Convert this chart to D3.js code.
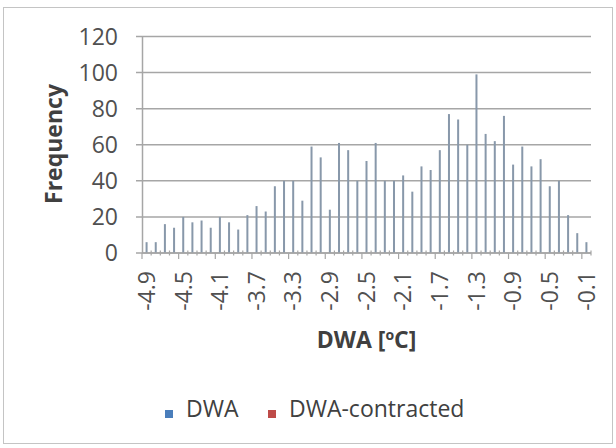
<!DOCTYPE html>
<html><head><meta charset="utf-8">
<script src="https://cdn.jsdelivr.net/npm/d3@7"></script>
<style>
html,body{margin:0;padding:0;background:#fff;}
svg{display:block;}
text{font-family:"Open Sans",sans-serif;}
</style></head>
<body>
<script>
const categories = [-4.9,-4.8,-4.7,-4.6,-4.5,-4.4,-4.3,-4.2,-4.1,-4.0,-3.9,-3.8,-3.7,-3.6,-3.5,-3.4,-3.3,-3.2,-3.1,-3.0,-2.9,-2.8,-2.7,-2.6,-2.5,-2.4,-2.3,-2.2,-2.1,-2.0,-1.9,-1.8,-1.7,-1.6,-1.5,-1.4,-1.3,-1.2,-1.1,-1.0,-0.9,-0.8,-0.7,-0.6,-0.5,-0.4,-0.3,-0.2,-0.1];
const dwaValues = [6,6,16,14,20,17,18,14,20,17,13,21,26,23,37,40,40,29,59,53,24,61,57,40,51,61,40,40,43,34,48,46,57,77,74,60,99,66,62,76,49,59,48,52,37,40,21,11,6];
const yTicks = [0,20,40,60,80,100,120];
const labelStep = 4;
const seriesNames = ["DWA","DWA-contracted"];
const seriesColors = ["#4a7ebb","#be4b48"];

const W = 616, H = 448;
const svg = d3.select("body").append("svg").attr("width",W).attr("height",H);

svg.append("rect").attr("x",3.5).attr("y",7.5).attr("width",609).attr("height",436)
  .attr("fill","#fff").attr("stroke","#c4c4c4").attr("stroke-width",1);

const x = d3.scaleBand().domain(categories.map(String)).range([142,591]).padding(0);
const y = d3.scaleLinear().domain([0,120]).range([253,36.5]);

// gridlines
svg.append("g").selectAll("line").data(yTicks).join("line")
  .attr("x1",136).attr("x2",591)
  .attr("y1",d=>y(d)).attr("y2",d=>y(d))
  .attr("stroke","#a6a6a6").attr("stroke-width",1.5);

// y axis line
svg.append("line").attr("x1",142.5).attr("x2",142.5).attr("y1",y(120)).attr("y2",y(0))
  .attr("stroke","#a6a6a6").attr("stroke-width",1.5);

// y tick labels
svg.append("g").selectAll("text").data(yTicks).join("text")
  .attr("x",118).attr("y",d=>y(d)).attr("dy","0.36em")
  .attr("text-anchor","end").attr("font-size",23).attr("fill","#505050")
  .text(d=>d);

// bars
svg.append("g").selectAll("rect").data(dwaValues).join("rect")
  .attr("x",(d,i)=>x(String(categories[i]))+x.bandwidth()/2-1)
  .attr("width",2)
  .attr("y",d=>y(d)).attr("height",d=>y(0)-y(d))
  .attr("fill","#8898aa");

// x axis line and ticks
const y0 = y(0);
svg.append("line").attr("x1",142).attr("x2",591).attr("y1",y0).attr("y2",y0)
  .attr("stroke","#a6a6a6").attr("stroke-width",1.5);
const bounds = d3.range(categories.length+1);
svg.append("g").selectAll("line").data(bounds).join("line")
  .attr("x1",i=>x.range()[0]+i*x.step()).attr("x2",i=>x.range()[0]+i*x.step())
  .attr("y1",i=>i%labelStep===0? y0 : y0-2.5)
  .attr("y2",i=>i%labelStep===0? y0+6 : y0+2.5)
  .attr("stroke","#a6a6a6").attr("stroke-width",1.2);

// x tick labels
const labelCats = categories.filter((d,i)=>i%labelStep===0);
svg.append("g").selectAll("text").data(labelCats).join("text")
  .attr("transform",d=>`translate(${x(String(d))+x.bandwidth()/2},271) rotate(-90)`)
  .attr("dy","0.36em")
  .attr("text-anchor","end").attr("font-size",23).attr("fill","#505050")
  .text(d=>d.toFixed(1));

// axis titles
svg.append("text").attr("transform","translate(62,144) rotate(-90)")
  .attr("text-anchor","middle").attr("font-size",23).attr("font-weight","bold").attr("fill","#404040")
  .text("Frequency");

const xt = svg.append("text").attr("x",366.5).attr("y",348)
  .attr("text-anchor","middle").attr("font-size",23).attr("font-weight","bold").attr("fill","#404040");
xt.append("tspan").text("DWA [");
xt.append("tspan").attr("font-size",14).attr("dy",-8).text("o");
xt.append("tspan").attr("dy",8).text("C]");

// legend
const legendX = [165,268];
const lg = svg.append("g").selectAll("g").data(seriesNames).join("g")
  .attr("transform",(d,i)=>`translate(${legendX[i]},0)`);
lg.append("rect").attr("x",0).attr("y",410).attr("width",8).attr("height",8)
  .attr("fill",(d,i)=>seriesColors[i]);
lg.append("text").attr("x",21).attr("y",417).attr("font-size",23).attr("fill","#404040")
  .text(d=>d);
</script>
</body></html>
